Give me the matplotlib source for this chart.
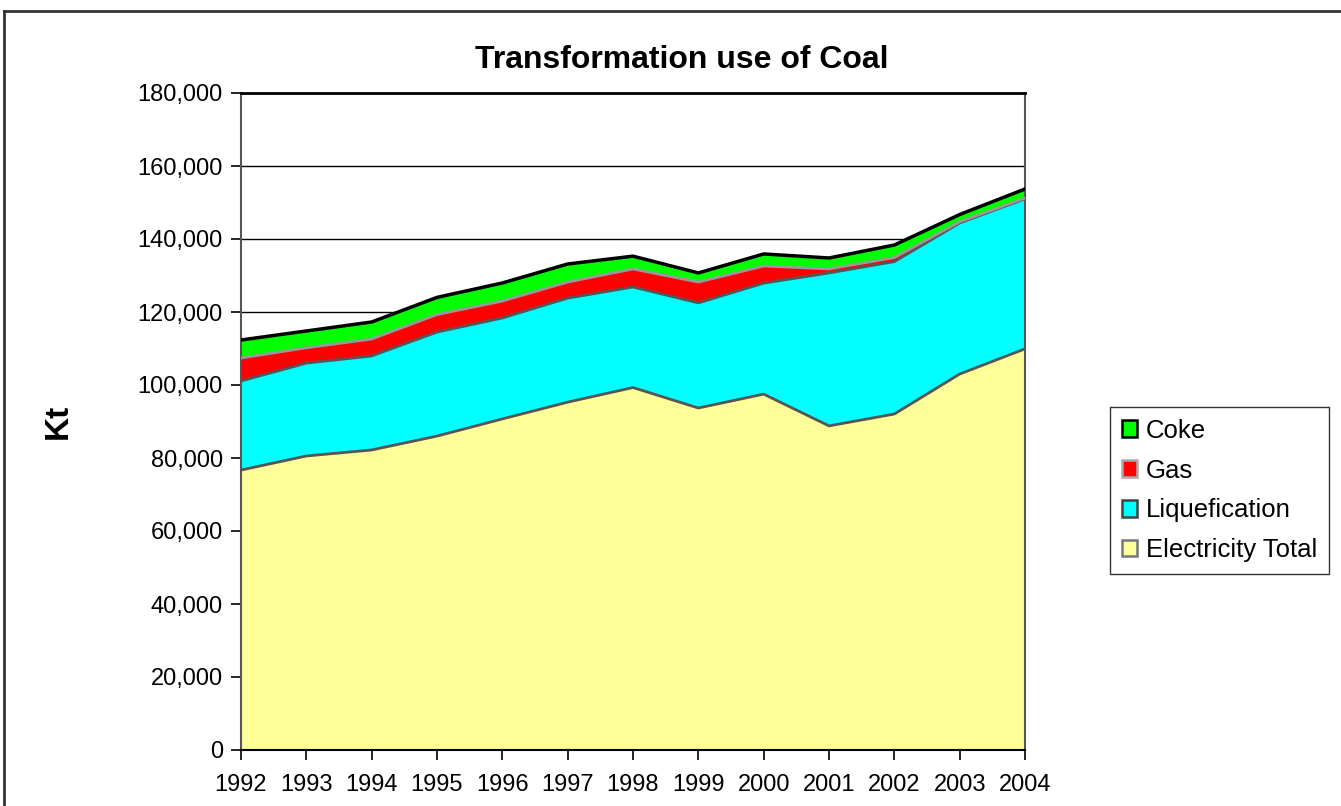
import numpy as np
import matplotlib.pyplot as plt
from matplotlib.lines import Line2D
from matplotlib.patches import Patch

plt.rcParams['font.family'] = ['Liberation Sans', 'DejaVu Sans']

years = [1992, 1993, 1994, 1995, 1996, 1997, 1998, 1999, 2000, 2001, 2002, 2003, 2004]
electricity = [76700, 80550, 82200, 86000, 90700, 95300, 99300, 93700, 97500, 88800, 92050, 103000, 109900]
liquefication = [24400, 25450, 25750, 28500, 27660, 28500, 27550, 28800, 30400, 41900, 41750, 41400, 41100]
gas = [6300, 4200, 4650, 4800, 4640, 4400, 4950, 5700, 4700, 1100, 1100, 300, 200]
coke = [4930, 4600, 4660, 4700, 4950, 4950, 3500, 2500, 3300, 3000, 3450, 2000, 2500]

series = ["Electricity Total", "Liquefication", "Gas", "Coke"]
fills = ["#FFFF99", "#00FFFF", "#FF0000", "#00FF00"]
edges = ["#555555", "#555555", "#999999", "#000000"]
edge_w = [2.0, 2.0, 2.0, 2.5]

fig = plt.figure(figsize=(13.41, 8.06), dpi=100)
ax = fig.add_axes([241/1341, 1-750/806, (1025-241)/1341, (750-93)/806])

x = np.array(years)
vals = [np.array(electricity), np.array(liquefication), np.array(gas), np.array(coke)]
bottom = np.zeros(len(years))
for v, fc, ec, lw in zip(vals, fills, edges, edge_w):
    top = bottom + v
    ax.fill_between(x, bottom, top, facecolor=fc, edgecolor='none', zorder=2)
    ax.plot(x, top, color=ec, lw=lw, zorder=3)
    bottom = top

ax.set_xlim(1992, 2004)
ax.set_ylim(0, 180000)
ax.set_xticks(years)
ax.set_xticklabels([str(y) for y in years], fontsize=17)
ax.set_yticks(np.arange(0, 180001, 20000))
ax.set_yticklabels(["{:,}".format(v) for v in range(0, 180001, 20000)], fontsize=17)
ax.yaxis.grid(True, color='black', lw=1.0, zorder=1)
ax.set_axisbelow(True)
ax.tick_params(axis='both', direction='out', length=7, width=1.2, color='black', pad=6)
ax.tick_params(axis='x', pad=10)
for s in ax.spines.values():
    s.set_color('#555555')
    s.set_linewidth(1.5)
ax.spines['bottom'].set_color('black')
ax.spines['top'].set_color('black')
ax.spines['top'].set_linewidth(2)

ax.set_title("Transformation use of Coal", fontsize=23, fontweight='bold', pad=18, x=0.5625)
ax.set_ylabel("Kt", fontsize=24, fontweight='bold', labelpad=46)

handles = [
    Patch(facecolor="#00FF00", edgecolor="#000000", lw=1.8),
    Patch(facecolor="#FF0000", edgecolor="#AAAAAA", lw=1.8),
    Patch(facecolor="#00FFFF", edgecolor="#444444", lw=1.8),
    Patch(facecolor="#FFFF99", edgecolor="#777777", lw=1.8),
]
leg = fig.legend(handles, ["Coke", "Gas", "Liquefication", "Electricity Total"],
                 loc='center left', bbox_to_anchor=(1110/1341, 1-490.5/806),
                 fontsize=18.5, frameon=True, fancybox=False, edgecolor='black',
                 handlelength=0.6, handleheight=0.6, handletextpad=0.35,
                 labelspacing=0.62, borderpad=0.45, borderaxespad=0)
leg.get_frame().set_linewidth(1.0)

# outer chart border (top and left edges)
fig.add_artist(Line2D([4/1341, 1], [1-11/806, 1-11/806], color='#333333', lw=2, transform=fig.transFigure))
fig.add_artist(Line2D([4/1341, 4/1341], [0, 1-11/806], color='#333333', lw=2, transform=fig.transFigure))

fig.savefig("out.png", dpi=100)
